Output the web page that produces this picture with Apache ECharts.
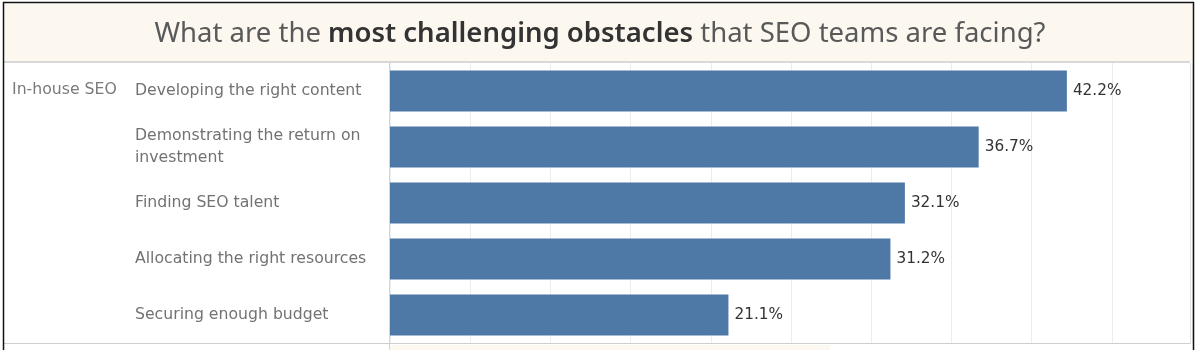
<!DOCTYPE html>
<html>
<head>
<meta charset="utf-8">
<script src="https://cdn.jsdelivr.net/npm/echarts@6/dist/echarts.min.js"></script>
<style>
  html, body { margin: 0; padding: 0; background: #fff; }
  #main { width: 1200px; height: 350px; }
</style>
</head>
<body>
<div id="main"></div>
<script>
// data
var groupName = 'In-house SEO';
var categories = [
    'Developing the right content',
    'Demonstrating the return on\ninvestment',
    'Finding SEO talent',
    'Allocating the right resources',
    'Securing enough budget'
];
var values = [42.2, 36.7, 32.1, 31.2, 21.1];

var myChart = echarts.init(document.getElementById('main'));
var FONT = '"DejaVu Sans", "Noto Sans", sans-serif';
var TITLE_FONT = '"Noto Sans", "Open Sans", sans-serif';

option = {
    animation: false,
    textStyle: { fontFamily: FONT },
    title: {
        text: '{n|What are the }{b|most challenging obstacles}{n| that SEO teams are facing?}',
        left: 'center',
        top: 15,
        textStyle: {
            fontWeight: 'normal',
            rich: {
                n: { fontSize: 27.5, color: '#595959', fontWeight: 'normal', fontFamily: TITLE_FONT },
                b: { fontSize: 27.5, color: '#333333', fontWeight: 600, fontFamily: TITLE_FONT }
            }
        }
    },
    grid: {
        left: 390,
        right: 8,
        top: 63,
        bottom: 7,
        containLabel: false
    },
    xAxis: {
        type: 'value',
        min: 0,
        max: 50,
        interval: 5,
        axisLabel: { show: false },
        axisTick: { show: false },
        axisLine: { show: false },
        splitLine: { lineStyle: { color: '#ececec', width: 1 } }
    },
    yAxis: {
        type: 'category',
        inverse: true,
        data: categories,
        axisTick: { show: false },
        axisLine: { show: false },
        axisLabel: {
            align: 'left',
            margin: 255,
            color: '#727272',
            fontSize: 15.7,
            lineHeight: 22,
            padding: [2, 0, 0, 0],
            fontFamily: FONT
        }
    },
    graphic: [
        {
            type: 'rect', z: -10,
            shape: { x: 4, y: 4, width: 1189, height: 57 },
            style: { fill: '#fcf8f0' }
        },
        {
            type: 'rect', z: -9,
            shape: { x: 4, y: 61, width: 1186, height: 2 },
            style: { fill: '#d8d8d8' }
        },
        {
            type: 'rect', z: -9,
            shape: { x: 390, y: 345, width: 440, height: 6 },
            style: { fill: '#fcf8f0' }
        },
        {
            type: 'line', z: 5,
            shape: { x1: 389.5, y1: 63, x2: 389.5, y2: 350 },
            style: { stroke: '#d6d6d6', lineWidth: 1 }
        },
        {
            type: 'line', z: 5,
            shape: { x1: 4, y1: 343.5, x2: 1190, y2: 343.5 },
            style: { stroke: '#cfcfcf', lineWidth: 1 }
        },
        {
            type: 'line', z: 5,
            shape: { x1: 1190.5, y1: 63, x2: 1190.5, y2: 344 },
            style: { stroke: '#e2e2e2', lineWidth: 1 }
        },
        {
            type: 'text', z: 5,
            left: 12, top: 82,
            style: { text: groupName, fill: '#7a7a7a', fontSize: 15.7, fontFamily: FONT }
        },
        {
            type: 'rect', z: 20,
            shape: { x: 3.5, y: 2.5, width: 1190, height: 352 },
            style: { fill: 'none', stroke: '#111111', lineWidth: 1.5 }
        }
    ],
    series: [
        {
            type: 'bar',
            data: values,
            barWidth: '73%',
            itemStyle: { color: '#4e79a7' },
            label: {
                show: true,
                position: 'right',
                distance: 6,
                color: '#333333',
                fontSize: 15.3,
                fontFamily: FONT,
                formatter: function (p) { return p.value.toFixed(1) + '%'; }
            }
        }
    ]
};

myChart.setOption(option);
</script>
</body>
</html>
